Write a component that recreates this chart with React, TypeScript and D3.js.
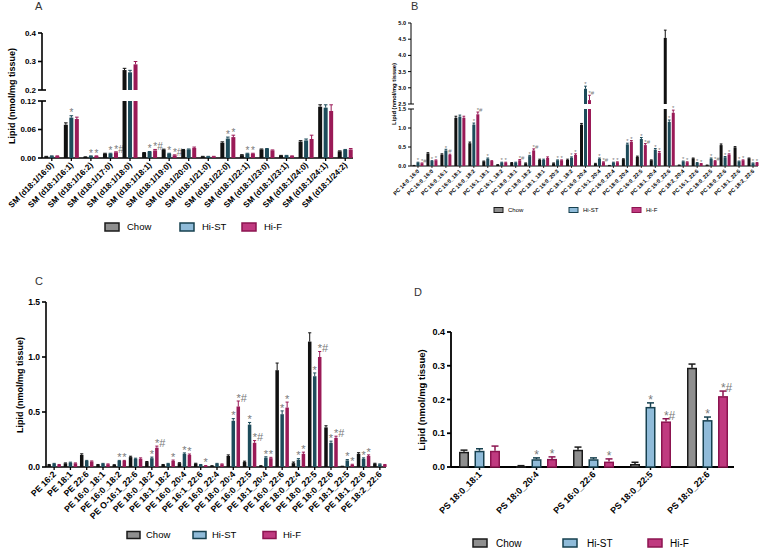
import * as d3 from "d3";
import React from "react";

const FONT = "'Liberation Sans', Arial, Helvetica, sans-serif";
const SERIES = ["Chow", "Hi-ST", "Hi-F"];
const SOLID = ["#111111", "#1d4b5a", "#9a1a57"];
const FILL = ["#8f8f8f", "#8fbbd9", "#c03a80"];
const STROKE = ["#1a1a1a", "#16404f", "#8c1450"];

// A: sphingomyelins
const smCats = ["SM (d18:1/16:0)", "SM (d18:1/16:1)", "SM (d18:1/16:2)", "SM (d18:1/17:0)", "SM (d18:1/18:0)", "SM (d18:1/18:1)", "SM (d18:1/19:0)", "SM (d18:1/20:0)", "SM (d18:1/21:0)", "SM (d18:1/22:0)", "SM (d18:1/22:1)", "SM (d18:1/23:0)", "SM (d18:1/23:1)", "SM (d18:1/24:0)", "SM (d18:1/24:1)", "SM (d18:1/24:2)"];
const smChow = [0.003, 0.070, 0.002, 0.009, 0.270, 0.0105, 0.0176, 0.017, 0.003, 0.032, 0.006, 0.018, 0.005, 0.0345, 0.108, 0.014];
const smHiST = [0.004, 0.085, 0.004, 0.009, 0.262, 0.0127, 0.009, 0.018, 0.003, 0.041, 0.009, 0.019, 0.005, 0.037, 0.106, 0.017];
const smHiF = [0.004, 0.082, 0.004, 0.012, 0.290, 0.016, 0.0056, 0.021, 0.003, 0.044, 0.009, 0.016, 0.004, 0.040, 0.099, 0.018];
const smErrChow = [0.0005, 0.004, 0.0005, 0.001, 0.006, 0.001, 0.001, 0.001, 0.0005, 0.002, 0.001, 0.001, 0.0005, 0.002, 0.004, 0.001];
const smErrHiST = [0.0005, 0.004, 0.0005, 0.001, 0.007, 0.001, 0.001, 0.001, 0.0005, 0.003, 0.001, 0.001, 0.0005, 0.003, 0.006, 0.001];
const smErrHiF = [0.0005, 0.004, 0.0005, 0.001, 0.010, 0.002, 0.001, 0.002, 0.0005, 0.004, 0.001, 0.001, 0.0005, 0.008, 0.013, 0.002];
const smSigHiST = ["", "*", "*", "*", "", "*", "*", "", "", "*", "*", "", "", "", "", ""];
const smSigHiF = ["", "", "*", "*#", "", "*#", "*#", "", "", "*", "*", "", "", "", "", ""];

// B: phosphatidylcholines
const pcCats = ["PC 14:0_16:0", "PC 16:0_16:0", "PC 16:0_16:1", "PC 16:0_18:1", "PC 16:0_18:2", "PC 16:1_18:1", "PC 16:1_18:2", "PC 18:0_18:1", "PC 18:0_18:2", "PC 18:1_18:1", "PC 16:0_20:3", "PC 18:1_18:2", "PC 16:0_20:4", "PC 16:1_20:4", "PC 16:0_22:4", "PC 18:0_20:4", "PC 16:0_22:5", "PC 18:1_20:4", "PC 16:0_22:6", "PC 18:2_20:4", "PC 16:1_22:6", "PC 18:0_22:5", "PC 18:0_22:6", "PC 18:1_22:6", "PC 18:2_22:6"];
const pcChow = [0.01, 0.33, 0.30, 1.27, 0.60, 0.12, 0.03, 0.08, 0.07, 0.16, 0.07, 0.16, 1.09, 0.06, 0.01, 0.18, 0.24, 0.15, 4.54, 0.02, 0.20, 0.02, 0.55, 0.49, 0.20];
const pcHiST = [0.09, 0.13, 0.41, 1.30, 1.09, 0.19, 0.09, 0.09, 0.26, 0.16, 0.15, 0.22, 2.97, 0.19, 0.09, 0.57, 0.71, 0.43, 1.16, 0.12, 0.08, 0.19, 0.23, 0.12, 0.07];
const pcHiF = [0.07, 0.15, 0.29, 1.27, 1.36, 0.13, 0.09, 0.15, 0.41, 0.21, 0.15, 0.29, 2.62, 0.10, 0.10, 0.64, 0.55, 0.35, 1.40, 0.10, 0.06, 0.13, 0.30, 0.15, 0.08];
const pcErrChow = [0.005, 0.02, 0.02, 0.04, 0.03, 0.01, 0.005, 0.01, 0.01, 0.02, 0.01, 0.02, 0.03, 0.01, 0.005, 0.01, 0.02, 0.01, 0.24, 0.005, 0.01, 0.005, 0.03, 0.02, 0.01];
const pcErrHiST = [0.01, 0.01, 0.03, 0.04, 0.04, 0.02, 0.01, 0.01, 0.02, 0.02, 0.01, 0.02, 0.08, 0.02, 0.01, 0.03, 0.04, 0.03, 0.05, 0.01, 0.01, 0.02, 0.02, 0.01, 0.01];
const pcErrHiF = [0.01, 0.01, 0.02, 0.04, 0.06, 0.01, 0.01, 0.02, 0.04, 0.03, 0.01, 0.03, 0.15, 0.01, 0.01, 0.03, 0.04, 0.03, 0.07, 0.01, 0.005, 0.01, 0.02, 0.01, 0.01];
const pcSigHiST = ["*", "*", "*", "", "*", "*", "*", "", "*", "", "*", "*", "*", "*", "*", "*", "*", "*", "*", "*", "*", "*", "*", "*", "*"];
const pcSigHiF = ["*#", "*", "#", "", "*#", "", "*", "*#", "*#", "", "*", "*", "*#", "*#", "*", "*", "*#", "*", "*", "*", "*", "*#", "*", "*", "*"];

// C: phosphatidylethanolamines
const peCats = ["PE 16:2", "PE 18:1", "PE 22:6", "PE 16:0_18:1", "PE 16:0_18:2", "PE O-16:1_22:6", "PE 18:0_18:2", "PE 18:1_18:2", "PE 16:0_20:4", "PE 16:1_22:6", "PE 16:0_22:4", "PE 18:0_20:4", "PE 16:0_22:5", "PE 18:1_20:4", "PE 16:0_22:6", "PE 18:0_22:4", "PE 18:0_22:5", "PE 18:0_22:6", "PE 18:1_22:5", "PE 18:1_22:6", "PE 18:2_22:6"];
const peChow = [0.02, 0.033, 0.11, 0.02, 0.018, 0.09, 0.045, 0.02, 0.035, 0.03, 0.01, 0.10, 0.045, 0.01, 0.88, 0.035, 1.14, 0.36, 0.005, 0.12, 0.03];
const peHiST = [0.03, 0.04, 0.055, 0.03, 0.055, 0.075, 0.08, 0.03, 0.12, 0.02, 0.03, 0.42, 0.385, 0.085, 0.48, 0.066, 0.825, 0.22, 0.06, 0.075, 0.025];
const peHiF = [0.02, 0.033, 0.05, 0.025, 0.055, 0.075, 0.175, 0.055, 0.11, 0.01, 0.025, 0.55, 0.22, 0.08, 0.54, 0.12, 1.0, 0.265, 0.02, 0.10, 0.02];
const peErrChow = [0.003, 0.004, 0.01, 0.003, 0.003, 0.008, 0.005, 0.003, 0.004, 0.004, 0.002, 0.01, 0.008, 0.002, 0.065, 0.01, 0.08, 0.015, 0.002, 0.01, 0.004];
const peErrHiST = [0.003, 0.004, 0.005, 0.003, 0.005, 0.005, 0.01, 0.003, 0.008, 0.003, 0.003, 0.02, 0.02, 0.008, 0.03, 0.01, 0.03, 0.015, 0.008, 0.008, 0.003];
const peErrHiF = [0.003, 0.004, 0.005, 0.003, 0.005, 0.008, 0.015, 0.008, 0.008, 0.003, 0.003, 0.05, 0.02, 0.008, 0.05, 0.015, 0.05, 0.015, 0.005, 0.01, 0.003];
const peSigHiST = ["", "", "", "", "*", "", "*", "", "*", "", "", "*", "*", "*", "*", "*", "*", "*", "*", "*", ""];
const peSigHiF = ["", "", "", "", "*", "", "*#", "*", "*", "*", "", "*#", "*#", "*", "*", "*", "*#", "*#", "*", "*", ""];

// D: phosphatidylserines
const psCats = ["PS 18:0_18:1", "PS 18:0_20:4", "PS 16:0_22:6", "PS 18:0_22:5", "PS 18:0_22:6"];
const psChow = [0.045, 0.003, 0.051, 0.009, 0.294];
const psHiST = [0.048, 0.023, 0.023, 0.178, 0.139];
const psHiF = [0.048, 0.024, 0.016, 0.135, 0.210];
const psErrChow = [0.005, 0.001, 0.008, 0.005, 0.011];
const psErrHiST = [0.006, 0.004, 0.004, 0.012, 0.009];
const psErrHiF = [0.014, 0.006, 0.008, 0.008, 0.015];
const psSigHiST = ["", "*", "", "*", "*"];
const psSigHiF = ["", "*", "*", "*#", "*#"];

const panels = [
  {
    letter: "A", letterPos: [35, 10], letterSize: 11,
    cats: smCats, vals: [smChow, smHiST, smHiF], errs: [smErrChow, smErrHiST, smErrHiF], sigs: [null, smSigHiST, smSigHiF],
    xRange: [42, 355], y0: 158, lowMax: 0.12, lowTop: 101, lowTicks: [0, 0.06, 0.12], lowFmt: ".2f",
    upper: { domain: [0.2, 0.4], range: [90, 33], ticks: [0.2, 0.3, 0.4], fmt: ".1f" },
    gap: 5.5, barW: 4, tickFont: 8, labelFont: 8.2, sigFont: 10, axisW: 1.6, tickLen: 4,
    yLabel: [12, 96], yLabelFont: 9,
    style: "solid",
    legend: { y: 227, box: [105, 180, 242], text: [127, 202, 264], w: 14, h: 8, font: 9.5 },
  },
  {
    letter: "B", letterPos: [411, 10], letterSize: 11,
    cats: pcCats, vals: [pcChow, pcHiST, pcHiF], errs: [pcErrChow, pcErrHiST, pcErrHiF], sigs: [null, pcSigHiST, pcSigHiF],
    xRange: [411, 760], y0: 166, lowMax: 1.5, lowTop: 109, lowTicks: [0, 0.5, 1.0, 1.5], lowFmt: ".1f",
    upper: { domain: [2.5, 5], range: [104, 23], ticks: [2.5, 3, 3.5, 4, 4.5, 5], fmt: ".1f" },
    gap: 4, barW: 3, tickFont: 5.5, labelFont: 5.5, sigFont: 6, axisW: 1, tickLen: 3,
    yLabel: [394, 94], yLabelFont: 5.8,
    style: "solid",
    legend: { y: 210, box: [494, 569, 632], text: [508, 583, 646], w: 9, h: 5, font: 6 },
  },
  {
    letter: "C", letterPos: [35, 285], letterSize: 11,
    cats: peCats, vals: [peChow, peHiST, peHiF], errs: [peErrChow, peErrHiST, peErrHiF], sigs: [null, peSigHiST, peSigHiF],
    xRange: [46, 388], y0: 467, lowMax: 1.5, lowTop: 302, lowTicks: [0, 0.5, 1.0, 1.5], lowFmt: ".1f",
    upper: null,
    gap: 5, barW: 3.5, tickFont: 8.5, labelFont: 8.7, sigFont: 11, axisW: 1.6, tickLen: 4,
    yLabel: [20, 385], yLabelFont: 9,
    style: "solid",
    legend: { y: 535, box: [127, 193, 263], text: [146, 212, 283], w: 13, h: 7, font: 9.5 },
  },
  {
    letter: "D", letterPos: [414, 296], letterSize: 11,
    cats: psCats, vals: [psChow, psHiST, psHiF], errs: [psErrChow, psErrHiST, psErrHiF], sigs: [null, psSigHiST, psSigHiF],
    xRange: [451, 736], y0: 467, lowMax: 0.4, lowTop: 332, lowTicks: [0, 0.1, 0.2, 0.3, 0.4], lowFmt: ".1f",
    upper: null,
    gap: 15.5, barW: 10, tickFont: 9, labelFont: 9, sigFont: 12, axisW: 1.8, tickLen: 4,
    yLabel: [422, 400], yLabelFont: 9.5,
    style: "outline",
    legend: { y: 543, box: [473, 563, 648], text: [496, 587, 670], w: 14, h: 8, font: 10 },
  },
];

function Panel({ p }: { p: any }) {
  const x = d3.scaleBand().domain(p.cats).range(p.xRange);
  const yLow = d3.scaleLinear().domain([0, p.lowMax]).range([p.y0, p.lowTop]);
  const yUp = p.upper ? d3.scaleLinear().domain(p.upper.domain).range(p.upper.range) : null;
  const yOf = (v: number) => (v <= p.lowMax || !yUp ? yLow(v) : yUp(v));
  const ax = p.xRange[0];
  const fmtLow = d3.format(p.lowFmt);
  const outline = p.style === "outline";
  const sw = outline ? 1.5 : 0;

  const marks: any[] = [];
  p.cats.forEach((c: string, i: number) => {
    const center = (x(c) as number) + x.bandwidth() / 2;
    [0, 1, 2].forEach((s) => {
      const v = p.vals[s][i];
      const e = p.errs[s][i];
      const cx = center + (s - 1) * p.gap;
      const fill = outline ? FILL[s] : SOLID[s];
      const stroke = outline ? STROKE[s] : "none";
      const left = cx - p.barW / 2;
      const key = `${i}-${s}`;
      if (yUp && v > p.lowMax) {
        marks.push(<rect key={key + "l"} x={left} y={yLow(p.lowMax)} width={p.barW} height={p.y0 - yLow(p.lowMax)} fill={fill} />);
        marks.push(<rect key={key + "u"} x={left} y={yUp(v)} width={p.barW} height={yUp(p.upper.domain[0]) - yUp(v)} fill={fill} />);
      } else {
        const yt = yLow(v);
        marks.push(
          <rect key={key} x={left + sw / 2} y={yt + sw / 2} width={Math.max(p.barW - sw, 0.5)} height={Math.max(p.y0 - yt - sw / 2, 0.5)} fill={fill} stroke={stroke} strokeWidth={sw} />
        );
      }
      const yt = yOf(v);
      const ye = yOf(v + e);
      const ec = outline ? STROKE[s] : SOLID[s];
      const cap = outline ? p.barW * 0.35 : p.barW * 0.45;
      marks.push(
        <g key={key + "e"} stroke={ec} strokeWidth={outline ? 1.5 : 1}>
          <line x1={cx} x2={cx} y1={yt} y2={ye} />
          <line x1={cx - cap} x2={cx + cap} y1={ye} y2={ye} />
        </g>
      );
      const sig = p.sigs[s] ? p.sigs[s][i] : "";
      if (sig) {
        const dx = sig === "*#" ? p.sigFont * 0.3 : 0;
        marks.push(
          <text key={key + "s"} x={cx + dx} y={ye - 0.5 + (sig === "#" ? -1 : p.sigFont * 0.12)} textAnchor="middle" fontSize={p.sigFont} fill="#7a7a7a" fontFamily={FONT}>
            {sig}
          </text>
        );
      }
    });
  });

  return (
    <g fontFamily={FONT}>
      <text x={p.letterPos[0]} y={p.letterPos[1]} fontSize={p.letterSize} fill="#333">{p.letter}</text>
      {/* y axis */}
      <g stroke="#000" strokeWidth={p.axisW}>
        <line x1={ax} x2={ax} y1={p.y0} y2={p.lowTop} />
        {yUp && <line x1={ax} x2={ax} y1={yUp(p.upper.domain[0])} y2={yUp(p.upper.domain[1])} />}
        <line x1={ax} x2={p.xRange[1] - 2} y1={p.y0} y2={p.y0} />
      </g>
      {p.lowTicks.map((t: number) => (
        <g key={"lt" + t}>
          <line x1={ax - p.tickLen} x2={t === p.lowMax && yUp ? ax + p.tickLen : ax} y1={yLow(t)} y2={yLow(t)} stroke="#000" strokeWidth={p.axisW} />
          <text x={ax - p.tickLen - 2} y={yLow(t)} dy="0.35em" textAnchor="end" fontSize={p.tickFont} fontWeight="bold">{fmtLow(t)}</text>
        </g>
      ))}
      {yUp &&
        p.upper.ticks.map((t: number) => (
          <g key={"ut" + t}>
            <line x1={ax - p.tickLen} x2={t === p.upper.domain[0] ? ax + p.tickLen : ax} y1={yUp(t)} y2={yUp(t)} stroke="#000" strokeWidth={p.axisW} />
            <text x={ax - p.tickLen - 2} y={yUp(t)} dy="0.35em" textAnchor="end" fontSize={p.tickFont} fontWeight="bold">{d3.format(p.upper.fmt)(t)}</text>
          </g>
        ))}
      {p.cats.map((c: string) => {
        const cx = (x(c) as number) + x.bandwidth() / 2;
        return (
          <g key={"xc" + c}>
            <line x1={cx} x2={cx} y1={p.y0} y2={p.y0 + p.tickLen - 1} stroke="#000" strokeWidth={p.axisW * 0.8} />
            <text transform={`translate(${cx + p.labelFont * 0.3},${p.y0 + p.tickLen + p.labelFont * 0.45}) rotate(-45)`} textAnchor="end" fontSize={p.labelFont} fontWeight="bold">{c}</text>
          </g>
        );
      })}
      <text transform={`translate(${p.yLabel[0]},${p.yLabel[1]}) rotate(-90)`} textAnchor="middle" dy="0.35em" fontSize={p.yLabelFont} fontWeight="bold">Lipid (nmol/mg tissue)</text>
      {marks}
      {SERIES.map((name, s) => (
        <g key={"lg" + name}>
          <rect x={p.legend.box[s]} y={p.legend.y - p.legend.h / 2} width={p.legend.w} height={p.legend.h} fill={FILL[s]} stroke={STROKE[s]} strokeWidth={p.legend.h > 6 ? 1.5 : 1} />
          <text x={p.legend.text[s]} y={p.legend.y} dy="0.35em" fontSize={p.legend.font}>{name}</text>
        </g>
      ))}
    </g>
  );
}

export default function App() {
  return (
    <svg width={759} height={548} style={{ position: "absolute", left: 0, top: 0, background: "#fff" }}>
      <rect width={759} height={548} fill="#fff" />
      {panels.map((p) => (
        <Panel key={p.letter} p={p} />
      ))}
    </svg>
  );
}
